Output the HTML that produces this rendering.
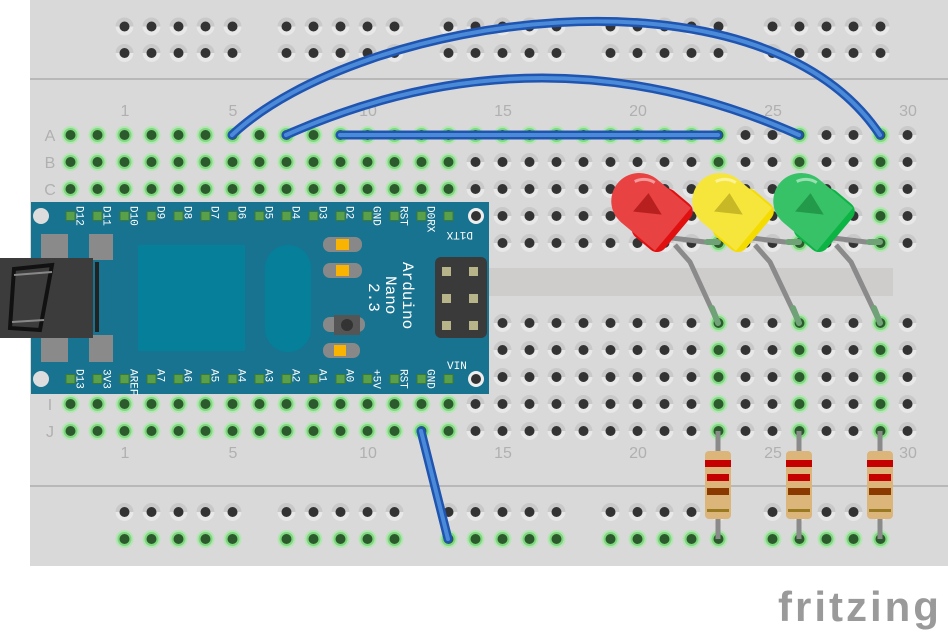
<!DOCTYPE html>
<html><head><meta charset="utf-8"><style>
html,body{margin:0;padding:0;background:#fff;width:948px;height:636px;overflow:hidden}
svg{display:block}
.m{font-family:"Liberation Mono","DejaVu Sans Mono",monospace}
.s{font-family:"Liberation Sans",sans-serif}
</style></head><body>
<svg id="s" width="948" height="636" viewBox="0 0 948 636" xmlns="http://www.w3.org/2000/svg">
<defs>
<g id="h"><circle r="9" fill="#c9c9c9"/><path d="M-9,0 A9,9 0 0 0 9,0 Z" fill="#e8e8e8"/><circle r="5" fill="#333"/></g>
<g id="g"><circle r="9" fill="#b4e6b4"/><circle r="7" fill="#7fd87f"/><circle r="5" fill="#2d5a2d"/></g>
</defs>
<rect x="30" y="0" width="918" height="566" fill="#d9d9d9"/>
<line x1="30" y1="79" x2="948" y2="79" stroke="#b8b8b8" stroke-width="2"/>
<line x1="30" y1="486" x2="948" y2="486" stroke="#b8b8b8" stroke-width="2"/>
<rect x="30" y="268" width="863" height="28" fill="#cfcdcc"/>
<g id="holes"></g>
<g class="s" font-size="16" fill="#b0b0b0" text-anchor="middle">
<text x="125" y="116">1</text><text x="233" y="116">5</text><text x="368" y="116">10</text><text x="503" y="116">15</text><text x="638" y="116">20</text><text x="773" y="116">25</text><text x="908" y="116">30</text>
<text x="125" y="458">1</text><text x="233" y="458">5</text><text x="368" y="458">10</text><text x="503" y="458">15</text><text x="638" y="458">20</text><text x="773" y="458">25</text><text x="908" y="458">30</text>
<text x="50" y="141">A</text><text x="50" y="168">B</text><text x="50" y="195">C</text><text x="50" y="222">D</text><text x="50" y="249">E</text>
<text x="50" y="329">F</text><text x="50" y="356">G</text><text x="50" y="383">H</text><text x="50" y="410">I</text><text x="50" y="437">J</text>
</g>
<!-- Arduino -->
<rect x="31" y="202" width="458" height="192" fill="#177390"/>
<rect x="138" y="245" width="107" height="106" fill="#067f9b"/>
<rect x="265" y="245" width="46" height="107" rx="23" fill="#067f9b"/>
<circle cx="41" cy="216" r="8" fill="#ddd"/><circle cx="41" cy="379" r="8" fill="#ddd"/>
<circle cx="476" cy="216" r="8" fill="#eee"/><circle cx="476" cy="216" r="5" fill="#333"/>
<circle cx="476" cy="379" r="8" fill="#eee"/><circle cx="476" cy="379" r="5" fill="#333"/>
<rect x="41" y="234" width="27" height="26" fill="#8a8a8a"/><rect x="89" y="234" width="24" height="26" fill="#8a8a8a"/>
<rect x="41" y="335" width="27" height="27" fill="#8a8a8a"/><rect x="89" y="335" width="24" height="27" fill="#8a8a8a"/>
<rect x="0" y="258" width="93" height="80" fill="#3c3c3c"/>
<rect x="95" y="262" width="4" height="70" fill="#222"/>
<path d="M14,269 L52,265 L40,330 L10,328 Z" fill="none" stroke="#111" stroke-width="4"/>
<path d="M14,275 L52,272 M12,322 L44,320" stroke="#888" stroke-width="2"/>
<rect x="323" y="237" width="39" height="15" rx="7" fill="#888"/><rect x="336" y="239" width="13" height="11" fill="#f8b400"/>
<rect x="323" y="263" width="39" height="15" rx="7" fill="#888"/><rect x="336" y="265" width="13" height="11" fill="#f8b400"/>
<rect x="323" y="317" width="42" height="15" rx="7" fill="#888"/><rect x="334" y="315" width="26" height="20" fill="#555"/><circle cx="347" cy="325" r="6" fill="#333"/>
<rect x="323" y="343" width="37" height="15" rx="7" fill="#888"/><rect x="334" y="345" width="12" height="11" fill="#f8b400"/>
<rect x="435" y="257" width="52" height="81" rx="6" fill="#3a3a3a"/>
<g fill="#b8b48a"><rect x="442" y="267" width="9" height="9"/><rect x="469" y="267" width="9" height="9"/><rect x="442" y="294" width="9" height="9"/><rect x="469" y="294" width="9" height="9"/><rect x="442" y="321" width="9" height="9"/><rect x="469" y="321" width="9" height="9"/></g>
<g id="ard" class="m" fill="#fff" font-size="11"></g>
<text class="m" fill="#fff" font-size="16" transform="translate(403,262) rotate(90)">Arduino</text>
<text class="m" fill="#fff" font-size="16" transform="translate(386,276) rotate(90)">Nano</text>
<text class="m" fill="#fff" font-size="16" transform="translate(369,283) rotate(90)">2.3</text>
<text class="m" fill="#fff" font-size="11" x="447" y="369">VIN</text>
<text class="m" fill="#fff" font-size="11" transform="translate(473,232) rotate(180)">D1TX</text>
<!-- LED legs -->
<g stroke="#8a8a8a" stroke-width="5" fill="none" stroke-linejoin="round">
<path d="M672,238 L705,242 L718,242"/><path d="M752,238 L785,242 L799,242"/><path d="M833,238 L866,242 L880,242"/>
<path d="M675,245 L690,262 L718,323"/><path d="M755,245 L770,262 L799,323"/><path d="M836,245 L851,262 L880,323"/>
</g>
<g stroke="#6fa276" stroke-width="6" stroke-linecap="round"><path d="M707,242 L718,242M712,308 L718,323M788,242 L799,242M793,308 L799,323M869,242 L880,242M874,308 L880,323"/></g>
<!-- LEDs -->
<g transform="translate(650,210) rotate(40)"><rect x="-4" y="-30" width="40" height="60" rx="10" fill="#e01010"/><path d="M-14,-28 A28,28 0 0 0 -14,28 L30,28 L30,-28 Z" fill="#e84242"/><path d="M-12,-12 L12,-4 L-12,12 Z" fill="#b82020"/><path d="M-30,-12 A20,20 0 0 1 -14,-24" stroke="#f49a9a" stroke-width="3" fill="none"/></g>
<g transform="translate(731,210) rotate(40)"><rect x="-4" y="-30" width="40" height="60" rx="10" fill="#f5dc00"/><path d="M-14,-28 A28,28 0 0 0 -14,28 L30,28 L30,-28 Z" fill="#f6e63c"/><path d="M-12,-12 L12,-4 L-12,12 Z" fill="#c9b826"/><path d="M-30,-12 A20,20 0 0 1 -14,-24" stroke="#fbf29a" stroke-width="3" fill="none"/></g>
<g transform="translate(812,210) rotate(40)"><rect x="-4" y="-30" width="40" height="60" rx="10" fill="#0cb444"/><path d="M-14,-28 A28,28 0 0 0 -14,28 L30,28 L30,-28 Z" fill="#38c268"/><path d="M-12,-12 L12,-4 L-12,12 Z" fill="#239a4a"/><path d="M-30,-12 A20,20 0 0 1 -14,-24" stroke="#9ae0b0" stroke-width="3" fill="none"/></g>
<!-- resistors -->
<g id="res"></g>
<!-- wires -->
<g fill="none" stroke-linecap="round">
<g stroke="#1f55b0" stroke-width="9"><path d="M232,135 C360,15 760,-45 880,135"/><path d="M286,135 Q542,21 799,135"/><path d="M340,135 L718,135"/><path d="M421,431 L448,539"/></g>
<g stroke="#4a8ad8" stroke-width="4"><path d="M232,135 C360,15 760,-45 880,135"/><path d="M286,135 Q542,21 799,135"/><path d="M340,135 L718,135"/><path d="M421,431 L448,539"/></g>
</g>
<text x="778" y="621" class="s" font-size="42" letter-spacing="3" fill="#9a9a9a" font-weight="bold">fritzing</text>
</svg>
<script>
var NS="http://www.w3.org/2000/svg",H=document.getElementById("holes");
function use(id,x,y){var u=document.createElementNS(NS,"use");u.setAttribute("href","#"+id);u.setAttribute("x",x);u.setAttribute("y",y);H.appendChild(u);}
function X(k){return 70.5+27*k;}
var rail=[2,3,4,5,6,8,9,10,11,12,14,15,16,17,18,20,21,22,23,24,26,27,28,29,30];
rail.forEach(function(k){use("h",X(k),26.5);use("h",X(k),53);use("h",X(k),512);use("g",X(k),539);});
var rows=[135,162,189,216,243,323,350,377,404,431];
var ledc=[24,27,30];
rows.forEach(function(y,ri){for(var k=0;k<32;k++){var gr=false;
 if(k<=14&&(ri<=2||ri>=8))gr=true;
 if(ledc.indexOf(k)>=0)gr=true;
 if(ri==0&&k>=12&&k<=23)gr=true;
 use(gr?"g":"h",X(k),y);}});
var A=document.getElementById("ard");
var topL=["D12","D11","D10","D9","D8","D7","D6","D5","D4","D3","D2","GND","RST","D0RX"];
var botL=["D13","3V3","AREF","A7","A6","A5","A4","A3","A2","A1","A0","+5V","RST","GND"];
for(var k=0;k<15;k++){[216,379].forEach(function(y){var r=document.createElementNS(NS,"rect");r.setAttribute("x",X(k)-4.5);r.setAttribute("y",y-4.5);r.setAttribute("width",9);r.setAttribute("height",9);r.setAttribute("fill","#5aa04a");r.setAttribute("stroke","#3b7a35");A.appendChild(r);});}
function lab(s,x,y){var t=document.createElementNS(NS,"text");t.textContent=s;t.setAttribute("transform","translate("+x+","+y+") rotate(90)");A.appendChild(t);}
topL.forEach(function(s,k){lab(s,X(k)+6,206);});
botL.forEach(function(s,k){lab(s,X(k)+6,369);});
var R=document.getElementById("res"),html="";
[718,799,880].forEach(function(x){html+='<rect x="'+(x-2.5)+'" y="431" width="5" height="108" fill="#8a8a8a"/><rect x="'+(x-13)+'" y="451" width="26" height="68" rx="4" fill="#dbb57a"/><rect x="'+(x-13)+'" y="460" width="26" height="7" fill="#c40000"/><rect x="'+(x-11)+'" y="474" width="22" height="7" fill="#c40000"/><rect x="'+(x-11)+'" y="488" width="22" height="7" fill="#8a3a00"/><rect x="'+(x-11)+'" y="509" width="22" height="3" fill="#9a7a20"/>';});
R.innerHTML=html;
</script>
</body></html>
